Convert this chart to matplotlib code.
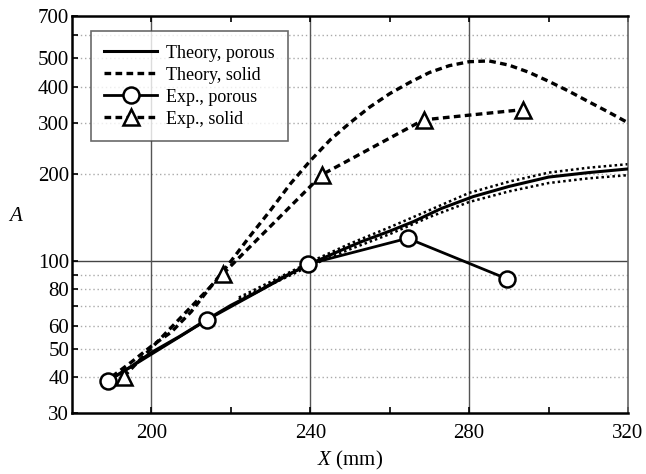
import numpy as np
import matplotlib
matplotlib.use("Agg")
import matplotlib.pyplot as plt
from matplotlib.ticker import FixedLocator, NullFormatter

plt.rcParams['font.family'] = ['Liberation Serif', 'DejaVu Serif']
plt.rcParams['mathtext.fontset'] = 'custom'
plt.rcParams['mathtext.it'] = 'Liberation Serif:italic'

# Theory, porous (solid line) with its dotted bounds
th_por_x = [188, 195, 200, 207, 214, 220, 227, 233, 240, 247, 253, 260,
            266, 273, 281, 290, 300, 310, 320]
th_por_y = [38, 43.5, 48.5, 55, 63, 70.5, 79, 88, 98, 108, 117, 127,
            137, 152, 167, 181, 195, 202, 208]
band_x = [222, 230, 240, 250, 260, 270, 280, 290, 300, 310, 320]
band_hi = [75, 85, 99.5, 115, 131, 150, 172, 188, 202, 210, 216]
band_lo = [74, 83, 96.5, 110, 124, 142, 160, 174, 186, 193, 198]

# Theory, solid (dashed line)
th_sol_x = [190, 195, 200, 205, 210, 215, 220, 225, 230, 235, 240, 245,
            250, 255, 260, 265, 270, 275, 280, 285, 290, 295, 300, 305,
            310, 315, 320]
th_sol_y = [40, 45, 51, 57, 67, 82, 100, 123, 150, 185, 222, 262,
            300, 340, 378, 413, 447, 472, 487, 490, 474, 448, 417, 386,
            355, 327, 300]

# Experiments
exp_por_x = [189, 214, 239.5, 264.5, 289.5]
exp_por_y = [38.6, 62.8, 97.8, 120, 87]
exp_sol_x = [193, 218, 243, 268.5, 293.5]
exp_sol_y = [40, 90.5, 199, 307, 333]

yticks = [30, 40, 50, 60, 80, 100, 200, 300, 400, 500, 700]
yminor = [70, 90, 600]
dotted_rows = [40, 50, 60, 70, 80, 90, 200, 300, 400, 500, 600]

fig = plt.figure(figsize=(6.46, 4.74), dpi=100)
ax = fig.add_axes([0.1115, 0.1287, 0.8607, 0.8376])
ax.set_yscale('log')
ax.set_xlim(180, 320)
ax.set_ylim(30, 700)

# grid
for y in dotted_rows:
    ax.axhline(y, color='#aaaaaa', lw=1.0, ls=(0, (1, 2)), zorder=0)
ax.axhline(100, color='#444444', lw=1.0, zorder=0)
for x in [200, 240, 280]:
    ax.axvline(x, color='#555555', lw=1.0, zorder=0)

# theory curves
ax.plot(band_x, band_hi, color='k', lw=1.8, ls=(0, (1, 1.2)), zorder=2)
ax.plot(band_x, band_lo, color='k', lw=1.8, ls=(0, (1, 1.2)), zorder=2)
ax.plot(th_por_x, th_por_y, color='k', lw=2.2, label='Theory, porous', zorder=3)
ax.plot(th_sol_x, th_sol_y, color='k', lw=2.4, ls=(0, (2.0, 1.3)),
        label='Theory, solid', zorder=3)

# experiments
ax.plot(exp_por_x, exp_por_y, color='k', lw=2, marker='o', ms=11.5,
        mfc='white', mec='k', mew=1.8, label='Exp., porous', zorder=4)
ax.plot(exp_sol_x, exp_sol_y, color='k', lw=2.4, ls=(0, (2.0, 1.3)),
        marker='^', ms=11.5, mfc='white', mec='k', mew=1.8,
        label='Exp., solid', zorder=4)

ax.yaxis.set_major_locator(FixedLocator(yticks))
ax.yaxis.set_minor_locator(FixedLocator(yminor))
ax.yaxis.set_minor_formatter(NullFormatter())
ax.set_yticklabels([str(v) for v in yticks])
ax.set_xticks([200, 240, 280, 320])
ax.set_xticks([220, 260, 300], minor=True)
ax.tick_params(axis='both', which='both', direction='in', labelsize=15,
               top=True, right=False, length=4, width=1.2)
ax.tick_params(axis='y', which='major', pad=2)
ax.tick_params(axis='x', which='major', pad=8)

for side in ['left', 'bottom', 'top']:
    ax.spines[side].set_linewidth(1.8)
ax.spines['right'].set_linewidth(1.2)
ax.spines['right'].set_color('#666666')

ax.set_xlabel('$X$ (mm)', fontsize=15, labelpad=4)
ax.set_ylabel('$A$', fontsize=15, rotation=0, va='center')
ax.yaxis.set_label_coords(-0.1, 0.496)

leg = ax.legend(loc='upper left', bbox_to_anchor=(0.034, 0.962), fontsize=13,
                handlelength=2.9, frameon=True, fancybox=False,
                borderpad=0.75, labelspacing=0.28, handletextpad=0.5,
                borderaxespad=0)
leg.get_frame().set_edgecolor('#444444')
leg.get_frame().set_linewidth(1.2)

fig.savefig('out.png', dpi=100)
